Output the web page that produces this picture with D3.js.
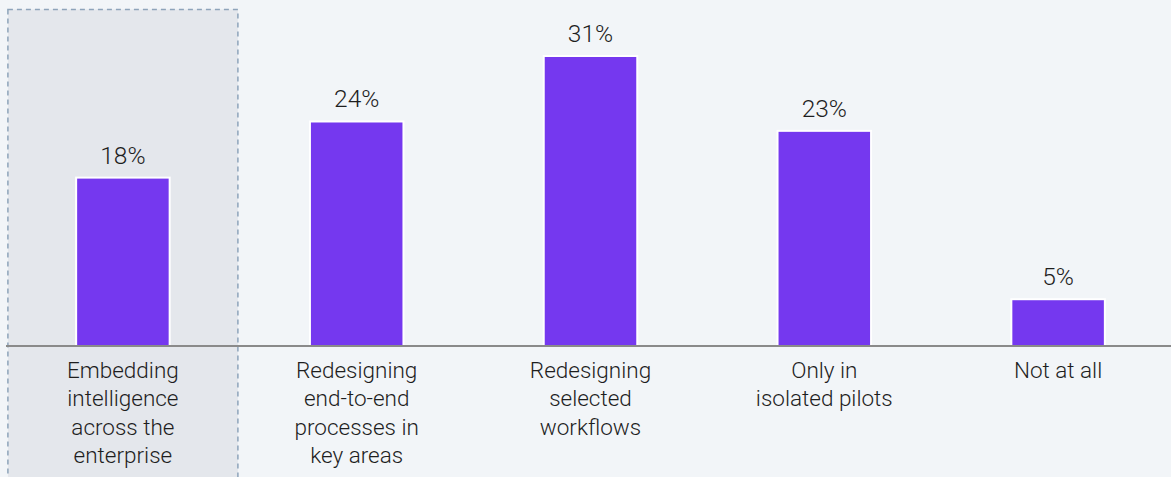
<!DOCTYPE html>
<html>
<head>
<meta charset="utf-8">
<script src="https://cdn.jsdelivr.net/npm/d3@7"></script>
<style>
  html, body { margin:0; padding:0; background:#f2f5f8; }
  svg { display:block; }
</style>
</head>
<body>
<div id="chart"></div>
<script>
const categories = [
    "Embedding intelligence across the enterprise",
    "Redesigning end-to-end processes in key areas",
    "Redesigning selected workflows",
    "Only in isolated pilots",
    "Not at all"
];
const labelLines = [
    ["Embedding", "intelligence", "across the", "enterprise"],
    ["Redesigning", "end-to-end", "processes in", "key areas"],
    ["Redesigning", "selected", "workflows"],
    ["Only in", "isolated pilots"],
    ["Not at all"]
];
const values = [18, 24, 31, 23, 5];
const highlighted = categories[0];

const width = 1171, height = 477;
const baseY = 346;
const font = "Roboto, 'Helvetica Neue', Arial, sans-serif";

const svg = d3.select("#chart").append("svg")
    .attr("width", width).attr("height", height);

const x = d3.scaleBand()
    .domain(categories)
    .range([6, 1175])
    .paddingInner(0.6)
    .paddingOuter(0.3);

const y = d3.scaleLinear().domain([0, 31]).range([baseY, 56]);

// highlight box behind the first category
svg.append("rect")
    .attr("x", x(highlighted) + x.bandwidth()/2 - 115)
    .attr("y", 9.5)
    .attr("width", 230)
    .attr("height", height + 20)
    .attr("fill", "#e4e7ec")
    .attr("stroke", "#8ea4ba")
    .attr("stroke-width", 1.5)
    .attr("stroke-dasharray", "5,4");

// bars
svg.selectAll(".bar").data(values)
    .join("rect")
    .attr("class", "bar")
    .attr("x", (d,i) => x(categories[i]))
    .attr("y", d => y(d))
    .attr("width", x.bandwidth())
    .attr("height", d => baseY - y(d))
    .attr("fill", "#7538ef")
    .attr("stroke", "#ffffff")
    .attr("stroke-width", 2);

// value labels
svg.selectAll(".val").data(values)
    .join("text")
    .attr("class", "val")
    .attr("x", (d,i) => x(categories[i]) + x.bandwidth()/2)
    .attr("y", d => y(d) - 14)
    .attr("text-anchor", "middle")
    .style("font-family", font)
    .style("font-weight", 300)
    .style("font-size", "24.5px")
    .style("fill", "#1e1e1e")
    .text(d => d + "%");

// axis line
svg.append("line")
    .attr("x1", 6).attr("x2", width)
    .attr("y1", baseY).attr("y2", baseY)
    .attr("stroke", "#8a8a8a")
    .attr("stroke-width", 2);

// category labels
categories.forEach((c,i) => {
    const t = svg.append("text")
        .attr("x", x(c) + x.bandwidth()/2)
        .attr("y", 378)
        .attr("text-anchor", "middle")
        .style("font-family", font)
        .style("font-weight", 300)
        .style("font-size", "22.5px")
        .style("fill", "#1e1e1e");
    labelLines[i].forEach((ln,j) => {
        t.append("tspan")
            .attr("x", x(c) + x.bandwidth()/2)
            .attr("dy", j === 0 ? 0 : 28.3)
            .text(ln);
    });
});
</script>
</body>
</html>
